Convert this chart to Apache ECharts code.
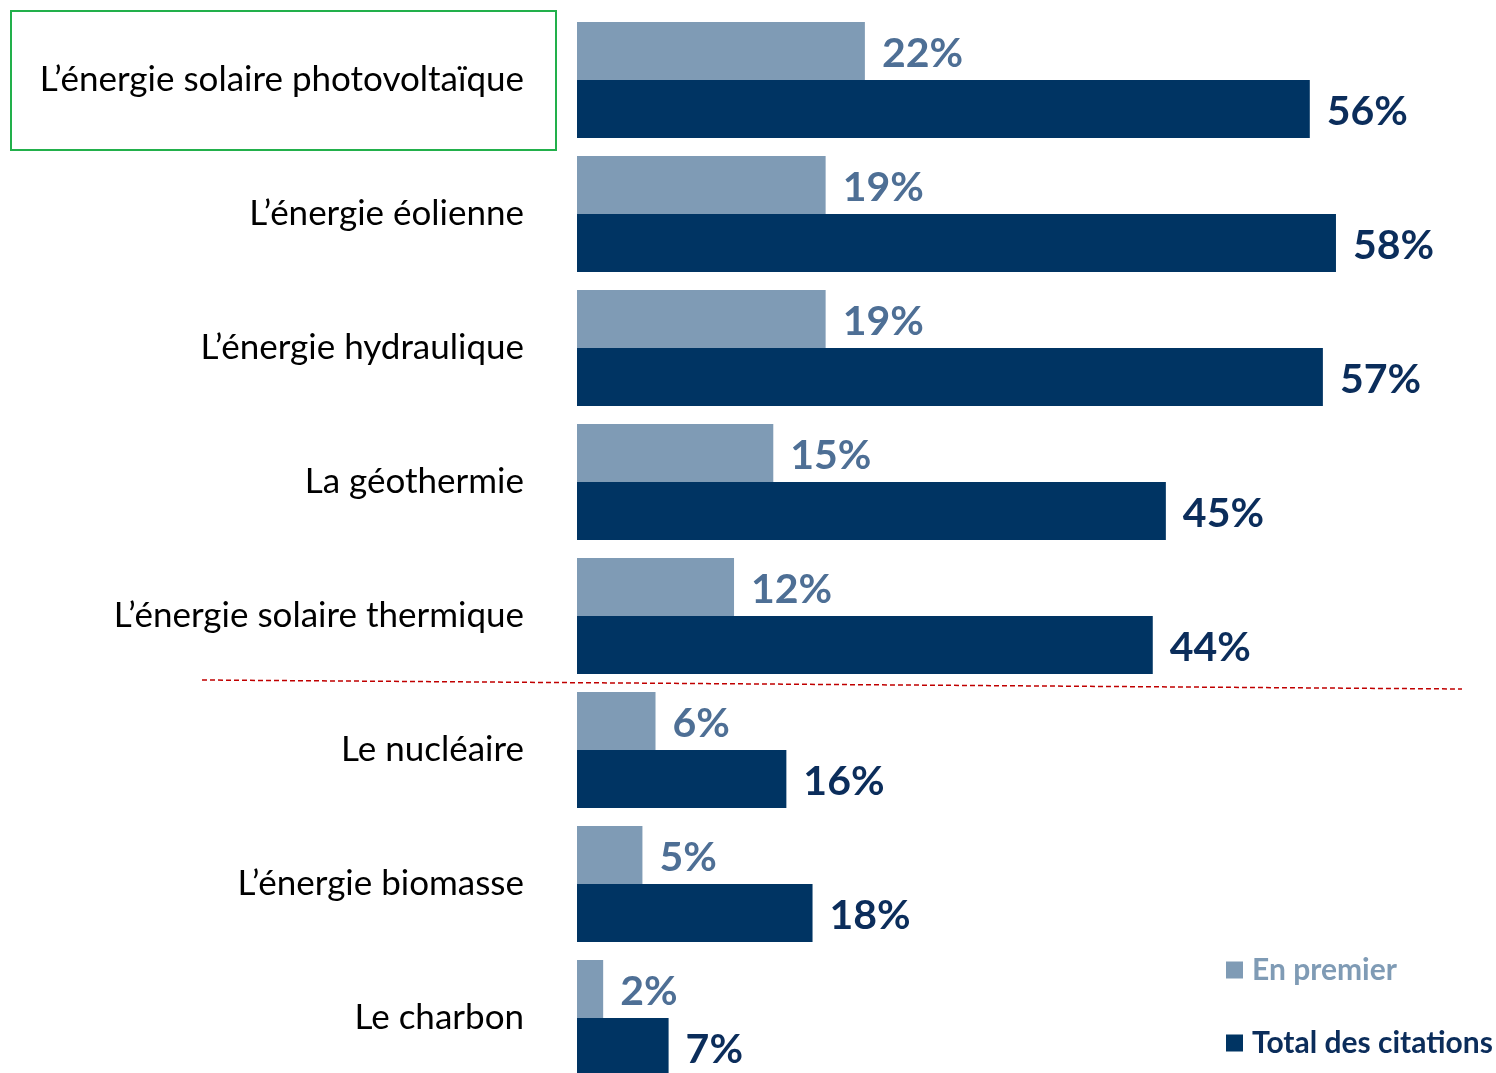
<!DOCTYPE html>
<html>
<head>
<meta charset="utf-8">
<title>Énergies</title>
<script src="https://cdn.jsdelivr.net/npm/echarts@6/dist/echarts.min.js"></script>
<style type="text/css">
html, body {
	margin: 0;
	padding: 0;
	background: #ffffff;
	overflow: hidden;
}
/* 图表比窗口高一点，最后一行在底部被截掉 */
#main {
	width: 1496px;
	height: 1085px;
}
</style>
</head>
<body>
	<div id="main"></div>
	<script type="text/javascript">
		// 数据
		var categories = [ 'L’énergie solaire photovoltaïque', 'L’énergie éolienne',
				'L’énergie hydraulique', 'La géothermie', 'L’énergie solaire thermique',
				'Le nucléaire', 'L’énergie biomasse', 'Le charbon' ];
		var enPremier = [ 22, 19, 19, 15, 12, 6, 5, 2 ];
		var totalCitations = [ 56, 58, 57, 45, 44, 16, 18, 7 ];

		var lightBar = '#7f9bb5', lightText = '#4e6f95';
		var darkBar = '#003463', darkText = '#0b2d5b';
		var font = 'Lato, "Open Sans", sans-serif';

		var myChart = echarts.init(document.getElementById('main'));

		option = {
			animation : false,
			legend : {
				orient : 'vertical',
				left : 1226,
				top : 955,
				padding : 0,
				itemWidth : 17,
				itemHeight : 17,
				itemGap : 43,
				icon : 'rect',
				textStyle : {
					fontFamily : font,
					fontSize : 30,
					fontWeight : 'bold',
					padding : [ 0, 0, 0, 4 ]
				},
				data : [ {
					name : 'En premier',
					textStyle : { color : lightBar }
				}, {
					name : 'Total des citations',
					textStyle : { color : darkText }
				} ]
			},
			grid : {
				left : 577,
				right : 3,
				top : 13,
				bottom : 0,
				containLabel : false
			},
			xAxis : {
				type : 'value',
				min : 0,
				max : 70,
				show : false
			},
			yAxis : {
				type : 'category',
				inverse : true,
				data : categories,
				axisLine : { show : false },
				axisTick : { show : false },
				axisLabel : {
					margin : 53,
					color : '#000000',
					fontFamily : font,
					fontSize : 35
				}
			},
			series : [ {
				name : 'En premier',
				type : 'bar',
				data : enPremier,
				barWidth : 58,
				barGap : '0%',
				itemStyle : { color : lightBar },
				label : {
					show : true,
					position : 'right',
					distance : 17,
					offset : [ 0, 3 ],
					formatter : '{c}%',
					color : lightText,
					fontFamily : font,
					fontSize : 41,
					fontWeight : 'bold'
				}
			}, {
				name : 'Total des citations',
				type : 'bar',
				data : totalCitations,
				barWidth : 58,
				barGap : '0%',
				itemStyle : { color : darkBar },
				label : {
					show : true,
					position : 'right',
					distance : 17,
					offset : [ 0, 3 ],
					formatter : '{c}%',
					color : darkText,
					fontFamily : font,
					fontSize : 41,
					fontWeight : 'bold'
				}
			} ],
			// 绿色框和红色虚线
			graphic : [ {
				type : 'rect',
				shape : { x : 11, y : 11, width : 545, height : 139 },
				style : { fill : 'none', stroke : '#22b04b', lineWidth : 2 }
			}, {
				type : 'line',
				shape : { x1 : 202, y1 : 680, x2 : 1462, y2 : 689 },
				style : { stroke : '#c00000', lineWidth : 1.5, lineDash : [ 5, 3 ] }
			} ]
		};

		myChart.setOption(option);
	</script>
</body>
</html>
